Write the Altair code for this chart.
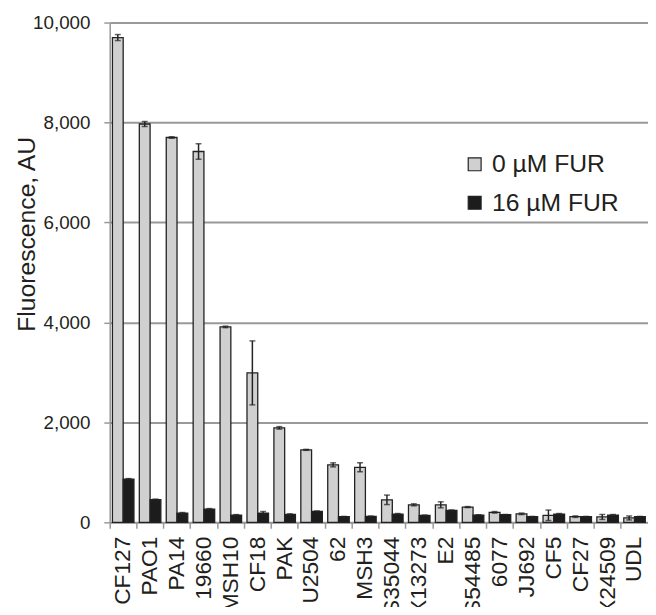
import altair as alt
import pandas as pd

strains = ["CF127", "PAO1", "PA14", "19660", "MSH10", "CF18", "PAK", "U2504", "62", "MSH3",
           "S35044", "X13273", "E2", "S54485", "6077", "JJ692", "CF5", "CF27", "X24509", "UDL"]
series_names = ["0 µM FUR", "16 µM FUR"]
fur0 = [9700, 7970, 7700, 7420, 3910, 2990, 1890, 1450, 1150, 1100,
        450, 350, 350, 305, 200, 170, 140, 113, 107, 87]
fur0_err = [60, 50, 15, 155, 15, 640, 25, 10, 40, 90,
            95, 20, 60, 10, 15, 15, 105, 15, 50, 40]
fur16 = [865, 455, 186, 265, 146, 186, 159, 218, 113, 119,
         166, 139, 238, 146, 152, 113, 166, 113, 146, 113]
fur16_err = [10, 10, 10, 10, 8, 30, 10, 10, 5, 5,
             10, 5, 10, 5, 5, 5, 10, 5, 10, 5]
y_ticks = [0, 2000, 4000, 6000, 8000, 10000]

rows = []
for i, s in enumerate(strains):
    rows.append({"strain": s, "series": series_names[0], "value": fur0[i],
                 "lo": fur0[i] - fur0_err[i], "hi": fur0[i] + fur0_err[i]})
    rows.append({"strain": s, "series": series_names[1], "value": fur16[i],
                 "lo": fur16[i] - fur16_err[i], "hi": fur16[i] + fur16_err[i]})
df = pd.DataFrame(rows)

FONT = "Liberation Sans"
TXT = "#231f20"
W = 545

x_enc = alt.X("strain:N", sort=strains, title=None,
              scale=alt.Scale(paddingInner=0, paddingOuter=0),
              axis=alt.Axis(labelAngle=-90, labelFontSize=23, labelFont=FONT,
                            labelColor=TXT, bandPosition=0,
                            tickSize=6, tickColor="#999999", tickWidth=1.5,
                            domainColor="#999999", domainWidth=1.5,
                            labelPadding=8, grid=False))
xoff = alt.XOffset("series:N", sort=series_names,
                   scale=alt.Scale(paddingInner=0, paddingOuter=0.25))
y_enc = alt.Y("value:Q", title="Fluorescence, AU",
              scale=alt.Scale(domain=[0, 10000], nice=False),
              axis=alt.Axis(values=y_ticks, labelExpr="format(datum.value, ',')",
                            labelFontSize=19, labelFont=FONT, labelColor=TXT,
                            tickSize=6, tickColor="#999999", tickWidth=1.5,
                            domainColor="#999999", domainWidth=1.5, labelPadding=14,
                            grid=True, gridColor="#999999", gridWidth=2,
                            titleFontSize=25, titleFont=FONT, titleColor=TXT,
                            titleFontWeight="normal", titleAngle=-90,
                            titleX=-76, titleY=214, titleAlign="center",
                            titleBaseline="alphabetic"))

bars = alt.Chart(df).mark_bar(stroke="#222222", strokeWidth=1.3).encode(
    x=x_enc,
    xOffset=xoff,
    y=y_enc,
    color=alt.Color("series:N", sort=series_names,
                    scale=alt.Scale(domain=series_names, range=["#d0d0d0", "#1c1c1c"]),
                    legend=alt.Legend(title=None, orient="none", legendX=357, legendY=131,
                                      symbolType="square", symbolSize=170,
                                      symbolStrokeColor="#222222", symbolStrokeWidth=1.2,
                                      labelFontSize=25, labelFont=FONT, labelColor=TXT,
                                      rowPadding=13, labelOffset=5, padding=0)),
)

rules = alt.Chart(df).mark_rule(color="#222222", strokeWidth=1.5).encode(
    x=alt.X("strain:N", sort=strains),
    xOffset=alt.XOffset("series:N", sort=series_names),
    y=alt.Y("lo:Q"),
    y2="hi:Q",
)
cap_hi = alt.Chart(df).mark_tick(color="#222222", thickness=1.5, size=6).encode(
    x=alt.X("strain:N", sort=strains),
    xOffset=alt.XOffset("series:N", sort=series_names),
    y=alt.Y("hi:Q"),
)
cap_lo = alt.Chart(df).mark_tick(color="#222222", thickness=1.5, size=6).encode(
    x=alt.X("strain:N", sort=strains),
    xOffset=alt.XOffset("series:N", sort=series_names),
    y=alt.Y("lo:Q"),
)

chart = alt.layer(bars, rules, cap_hi, cap_lo).properties(
    width=W, height=506,
    autosize=alt.AutoSizeParams(type="none"),
    padding={"left": 103, "top": 11, "right": 0, "bottom": 82},
).configure_view(stroke=None).configure(background="white")

chart.save("out.html", embed_options={"renderer": "svg", "actions": False})
